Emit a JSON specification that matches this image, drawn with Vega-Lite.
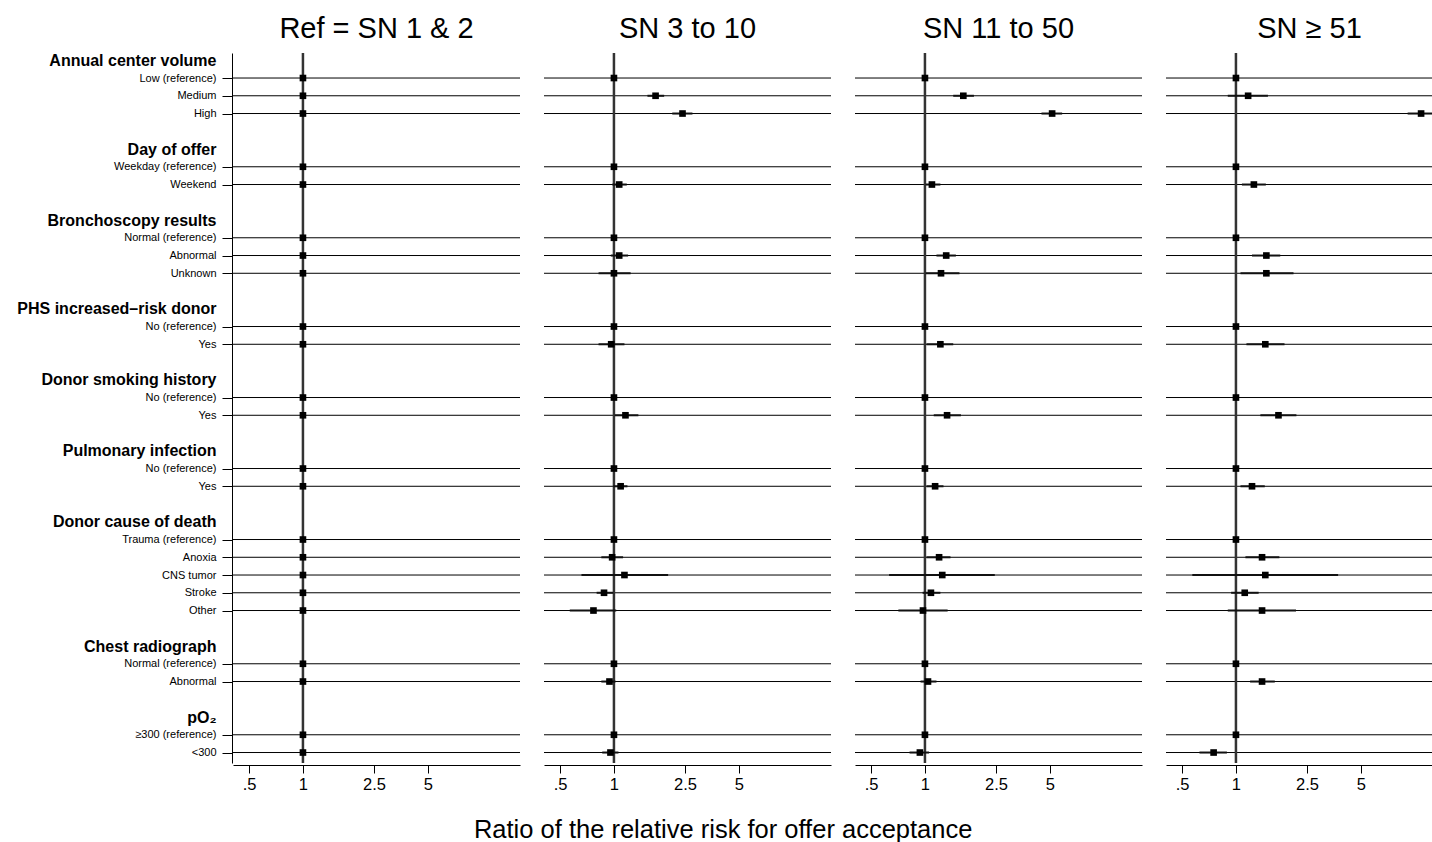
{
 "$schema": "https://vega.github.io/schema/vega-lite/v6.json",
 "padding": {"left": 16, "top": 15, "right": 0, "bottom": 0},
 "background": "white",
 "config": {"view": {"stroke": null}, "font": "Liberation Sans"},
 "title": {"text": "Ratio of the relative risk for offer acceptance", "orient": "bottom", "fontSize": 25.5, "fontWeight": "normal", "font": "Liberation Sans", "color": "black", "offset": 25, "anchor": "middle", "dx": -12},
 "data": {"values": [
  {"panel":"Ref = SN 1 & 2","key":"00H|Annual center volume"},
  {"panel":"Ref = SN 1 & 2","key":"01R|Low (reference)","rr":1},
  {"panel":"Ref = SN 1 & 2","key":"02R|Medium","rr":1},
  {"panel":"Ref = SN 1 & 2","key":"03R|High","rr":1},
  {"panel":"Ref = SN 1 & 2","key":"04G|"},
  {"panel":"Ref = SN 1 & 2","key":"05H|Day of offer"},
  {"panel":"Ref = SN 1 & 2","key":"06R|Weekday (reference)","rr":1},
  {"panel":"Ref = SN 1 & 2","key":"07R|Weekend","rr":1},
  {"panel":"Ref = SN 1 & 2","key":"08G|"},
  {"panel":"Ref = SN 1 & 2","key":"09H|Bronchoscopy results"},
  {"panel":"Ref = SN 1 & 2","key":"10R|Normal (reference)","rr":1},
  {"panel":"Ref = SN 1 & 2","key":"11R|Abnormal","rr":1},
  {"panel":"Ref = SN 1 & 2","key":"12R|Unknown","rr":1},
  {"panel":"Ref = SN 1 & 2","key":"13G|"},
  {"panel":"Ref = SN 1 & 2","key":"14H|PHS increased–risk donor"},
  {"panel":"Ref = SN 1 & 2","key":"15R|No (reference)","rr":1},
  {"panel":"Ref = SN 1 & 2","key":"16R|Yes","rr":1},
  {"panel":"Ref = SN 1 & 2","key":"17G|"},
  {"panel":"Ref = SN 1 & 2","key":"18H|Donor smoking history"},
  {"panel":"Ref = SN 1 & 2","key":"19R|No (reference)","rr":1},
  {"panel":"Ref = SN 1 & 2","key":"20R|Yes","rr":1},
  {"panel":"Ref = SN 1 & 2","key":"21G|"},
  {"panel":"Ref = SN 1 & 2","key":"22H|Pulmonary infection"},
  {"panel":"Ref = SN 1 & 2","key":"23R|No (reference)","rr":1},
  {"panel":"Ref = SN 1 & 2","key":"24R|Yes","rr":1},
  {"panel":"Ref = SN 1 & 2","key":"25G|"},
  {"panel":"Ref = SN 1 & 2","key":"26H|Donor cause of death"},
  {"panel":"Ref = SN 1 & 2","key":"27R|Trauma (reference)","rr":1},
  {"panel":"Ref = SN 1 & 2","key":"28R|Anoxia","rr":1},
  {"panel":"Ref = SN 1 & 2","key":"29R|CNS tumor","rr":1},
  {"panel":"Ref = SN 1 & 2","key":"30R|Stroke","rr":1},
  {"panel":"Ref = SN 1 & 2","key":"31R|Other","rr":1},
  {"panel":"Ref = SN 1 & 2","key":"32G|"},
  {"panel":"Ref = SN 1 & 2","key":"33H|Chest radiograph"},
  {"panel":"Ref = SN 1 & 2","key":"34R|Normal (reference)","rr":1},
  {"panel":"Ref = SN 1 & 2","key":"35R|Abnormal","rr":1},
  {"panel":"Ref = SN 1 & 2","key":"36G|"},
  {"panel":"Ref = SN 1 & 2","key":"37H|pO₂"},
  {"panel":"Ref = SN 1 & 2","key":"38R|≥300 (reference)","rr":1},
  {"panel":"Ref = SN 1 & 2","key":"39R|<300","rr":1},

  {"panel":"SN 3 to 10","key":"01R|Low (reference)","rr":1},
  {"panel":"SN 3 to 10","key":"02R|Medium","rr":1.71,"lo":1.54,"hi":1.91},
  {"panel":"SN 3 to 10","key":"03R|High","rr":2.42,"lo":2.12,"hi":2.75},
  {"panel":"SN 3 to 10","key":"06R|Weekday (reference)","rr":1},
  {"panel":"SN 3 to 10","key":"07R|Weekend","rr":1.07,"lo":0.98,"hi":1.18},
  {"panel":"SN 3 to 10","key":"10R|Normal (reference)","rr":1},
  {"panel":"SN 3 to 10","key":"11R|Abnormal","rr":1.07,"lo":0.96,"hi":1.2},
  {"panel":"SN 3 to 10","key":"12R|Unknown","rr":1.0,"lo":0.82,"hi":1.24},
  {"panel":"SN 3 to 10","key":"15R|No (reference)","rr":1},
  {"panel":"SN 3 to 10","key":"16R|Yes","rr":0.965,"lo":0.82,"hi":1.145},
  {"panel":"SN 3 to 10","key":"19R|No (reference)","rr":1},
  {"panel":"SN 3 to 10","key":"20R|Yes","rr":1.16,"lo":1.01,"hi":1.37},
  {"panel":"SN 3 to 10","key":"23R|No (reference)","rr":1},
  {"panel":"SN 3 to 10","key":"24R|Yes","rr":1.09,"lo":0.99,"hi":1.19},
  {"panel":"SN 3 to 10","key":"27R|Trauma (reference)","rr":1},
  {"panel":"SN 3 to 10","key":"28R|Anoxia","rr":0.977,"lo":0.85,"hi":1.125},
  {"panel":"SN 3 to 10","key":"29R|CNS tumor","rr":1.145,"lo":0.658,"hi":2.01},
  {"panel":"SN 3 to 10","key":"30R|Stroke","rr":0.88,"lo":0.8,"hi":0.99},
  {"panel":"SN 3 to 10","key":"31R|Other","rr":0.768,"lo":0.566,"hi":1.03},
  {"panel":"SN 3 to 10","key":"34R|Normal (reference)","rr":1},
  {"panel":"SN 3 to 10","key":"35R|Abnormal","rr":0.944,"lo":0.85,"hi":1.02},
  {"panel":"SN 3 to 10","key":"38R|≥300 (reference)","rr":1},
  {"panel":"SN 3 to 10","key":"39R|<300","rr":0.956,"lo":0.86,"hi":1.06},

  {"panel":"SN 11 to 50","key":"01R|Low (reference)","rr":1},
  {"panel":"SN 11 to 50","key":"02R|Medium","rr":1.64,"lo":1.44,"hi":1.88},
  {"panel":"SN 11 to 50","key":"03R|High","rr":5.15,"lo":4.49,"hi":5.86},
  {"panel":"SN 11 to 50","key":"06R|Weekday (reference)","rr":1},
  {"panel":"SN 11 to 50","key":"07R|Weekend","rr":1.094,"lo":1.01,"hi":1.22},
  {"panel":"SN 11 to 50","key":"10R|Normal (reference)","rr":1},
  {"panel":"SN 11 to 50","key":"11R|Abnormal","rr":1.315,"lo":1.16,"hi":1.49},
  {"panel":"SN 11 to 50","key":"12R|Unknown","rr":1.23,"lo":1.01,"hi":1.56},
  {"panel":"SN 11 to 50","key":"15R|No (reference)","rr":1},
  {"panel":"SN 11 to 50","key":"16R|Yes","rr":1.22,"lo":1.02,"hi":1.44},
  {"panel":"SN 11 to 50","key":"19R|No (reference)","rr":1},
  {"panel":"SN 11 to 50","key":"20R|Yes","rr":1.33,"lo":1.12,"hi":1.59},
  {"panel":"SN 11 to 50","key":"23R|No (reference)","rr":1},
  {"panel":"SN 11 to 50","key":"24R|Yes","rr":1.14,"lo":1.02,"hi":1.27},
  {"panel":"SN 11 to 50","key":"27R|Trauma (reference)","rr":1},
  {"panel":"SN 11 to 50","key":"28R|Anoxia","rr":1.2,"lo":1.02,"hi":1.39},
  {"panel":"SN 11 to 50","key":"29R|CNS tumor","rr":1.25,"lo":0.63,"hi":2.46},
  {"panel":"SN 11 to 50","key":"30R|Stroke","rr":1.08,"lo":0.97,"hi":1.22},
  {"panel":"SN 11 to 50","key":"31R|Other","rr":0.975,"lo":0.71,"hi":1.34},
  {"panel":"SN 11 to 50","key":"34R|Normal (reference)","rr":1},
  {"panel":"SN 11 to 50","key":"35R|Abnormal","rr":1.04,"lo":0.945,"hi":1.16},
  {"panel":"SN 11 to 50","key":"38R|≥300 (reference)","rr":1},
  {"panel":"SN 11 to 50","key":"39R|<300","rr":0.937,"lo":0.82,"hi":1.055},

  {"panel":"SN ≥ 51","key":"01R|Low (reference)","rr":1},
  {"panel":"SN ≥ 51","key":"02R|Medium","rr":1.17,"lo":0.9,"hi":1.51},
  {"panel":"SN ≥ 51","key":"03R|High","rr":10.87,"lo":9.14,"hi":12.94},
  {"panel":"SN ≥ 51","key":"06R|Weekday (reference)","rr":1},
  {"panel":"SN ≥ 51","key":"07R|Weekend","rr":1.26,"lo":1.08,"hi":1.47},
  {"panel":"SN ≥ 51","key":"10R|Normal (reference)","rr":1},
  {"panel":"SN ≥ 51","key":"11R|Abnormal","rr":1.48,"lo":1.23,"hi":1.77},
  {"panel":"SN ≥ 51","key":"12R|Unknown","rr":1.48,"lo":1.06,"hi":2.1},
  {"panel":"SN ≥ 51","key":"15R|No (reference)","rr":1},
  {"panel":"SN ≥ 51","key":"16R|Yes","rr":1.46,"lo":1.145,"hi":1.87},
  {"panel":"SN ≥ 51","key":"19R|No (reference)","rr":1},
  {"panel":"SN ≥ 51","key":"20R|Yes","rr":1.73,"lo":1.37,"hi":2.18},
  {"panel":"SN ≥ 51","key":"23R|No (reference)","rr":1},
  {"panel":"SN ≥ 51","key":"24R|Yes","rr":1.23,"lo":1.06,"hi":1.45},
  {"panel":"SN ≥ 51","key":"27R|Trauma (reference)","rr":1},
  {"panel":"SN ≥ 51","key":"28R|Anoxia","rr":1.4,"lo":1.13,"hi":1.75},
  {"panel":"SN ≥ 51","key":"29R|CNS tumor","rr":1.46,"lo":0.57,"hi":3.73},
  {"panel":"SN ≥ 51","key":"30R|Stroke","rr":1.12,"lo":0.94,"hi":1.34},
  {"panel":"SN ≥ 51","key":"31R|Other","rr":1.4,"lo":0.9,"hi":2.17},
  {"panel":"SN ≥ 51","key":"34R|Normal (reference)","rr":1},
  {"panel":"SN ≥ 51","key":"35R|Abnormal","rr":1.4,"lo":1.2,"hi":1.65},
  {"panel":"SN ≥ 51","key":"38R|≥300 (reference)","rr":1},
  {"panel":"SN ≥ 51","key":"39R|<300","rr":0.75,"lo":0.625,"hi":0.89}
 ]},
 "facet": {"column": {"field": "panel", "type": "nominal", "sort": ["Ref = SN 1 & 2", "SN 3 to 10", "SN 11 to 50", "SN ≥ 51"], "title": null,
   "header": {"labelFontSize": 29, "labelFont": "Liberation Sans", "labelColor": "black", "labelPadding": 7}}},
 "spacing": {"column": 22},
 "spec": {
  "width": 287,
  "height": 710,
  "layer": [
   {"mark": {"type": "rule", "color": "black", "strokeWidth": 1},
    "encoding": {
     "y": {"field": "key", "type": "nominal", "sort": "ascending", "title": null,
      "scale": {"type": "point", "paddingOuter": 0.49, "align": 0.41},
      "axis": {"title": null, "grid": false, "domainColor": "black", "domainWidth": 1,
       "tickSize": 10, "tickColor": "black", "tickWidth": 1,
       "tickOpacity": {"condition": {"test": "indexof(datum.value, 'R|') == 2", "value": 1}, "value": 0},
       "labelExpr": "split(datum.value, '|')[1]",
       "labelFontSize": {"condition": {"test": "indexof(datum.value, 'H|') == 2", "value": 16}, "value": 11},
       "labelFontWeight": {"condition": {"test": "indexof(datum.value, 'H|') == 2", "value": "bold"}, "value": "normal"},
       "labelPadding": 6, "labelColor": "black", "labelFont": "Liberation Sans", "labelLimit": 400, "labelOverlap": false}},
     "strokeOpacity": {"condition": {"test": "indexof(datum.key, 'R|') == 2", "value": 1}, "value": 0}
    }},
   {"transform": [{"filter": "datum.key == '01R|Low (reference)'"}],
    "mark": {"type": "rule", "color": "#333333", "strokeWidth": 2.5},
    "encoding": {"x": {"datum": 1, "type": "quantitative"}}},
   {"mark": {"type": "rule", "color": "#111111", "strokeWidth": 2},
    "encoding": {
     "x": {"field": "lo", "type": "quantitative", "title": null},
     "x2": {"field": "hi"},
     "y": {"field": "key", "type": "nominal", "title": null}}},
   {"mark": {"type": "square", "size": 44, "color": "black", "opacity": 1, "filled": true},
    "encoding": {
     "x": {"field": "rr", "type": "quantitative", "title": null,
      "scale": {"type": "log", "domain": [0.406, 16.4], "nice": false},
      "axis": {"title": null, "grid": false, "values": [0.5, 1, 2.5, 5],
       "labelExpr": "datum.value == 0.5 ? '.5' : toString(datum.value)",
       "tickSize": 8, "tickColor": "black", "domainColor": "black", "labelFontSize": 16.5,
       "labelColor": "black", "labelPadding": 3, "labelFont": "Liberation Sans", "labelFlush": false}},
     "y": {"field": "key", "type": "nominal", "title": null}}}
  ]
 }
}
